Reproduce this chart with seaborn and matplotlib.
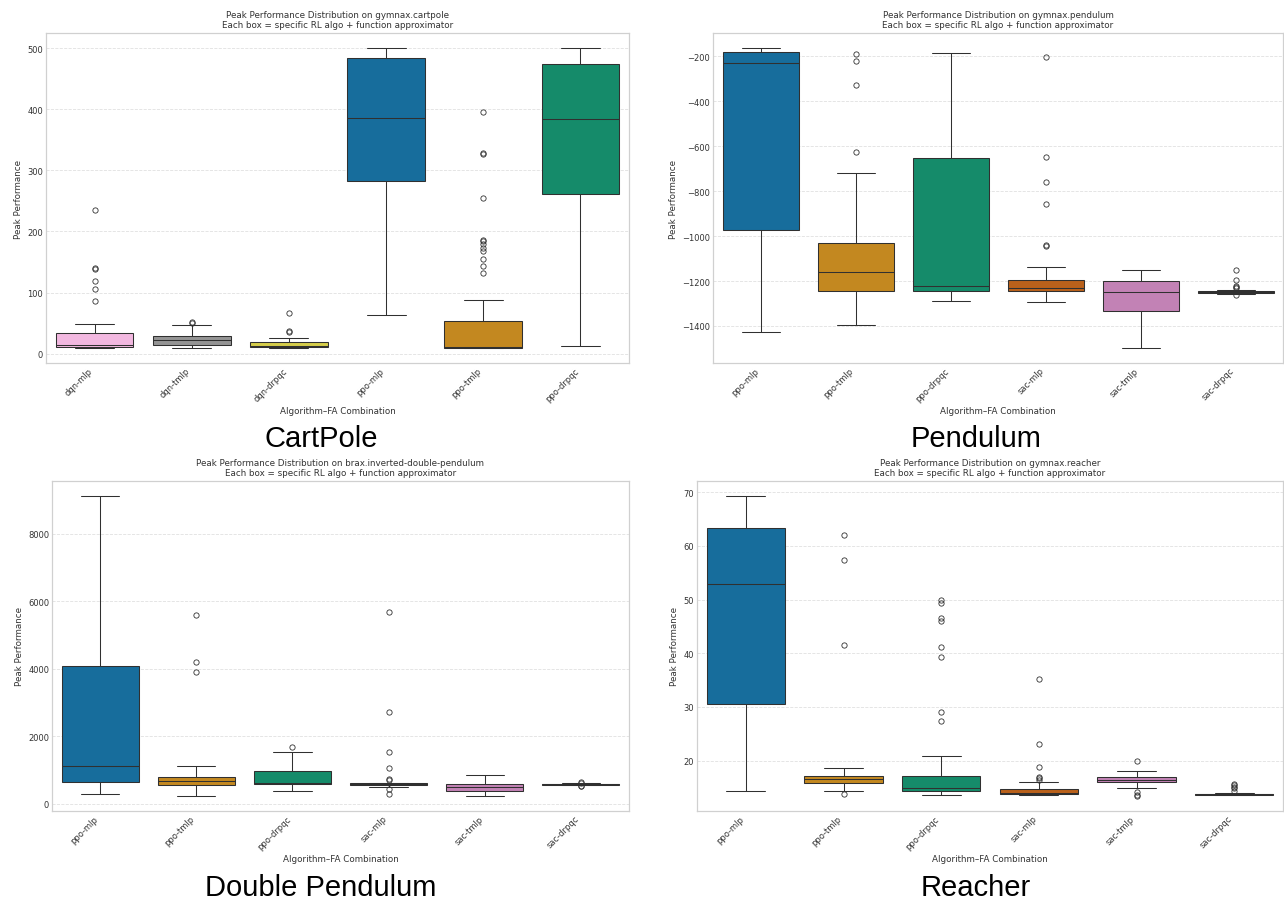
import matplotlib
matplotlib.use("Agg")
import matplotlib.pyplot as plt
import pandas as pd
import seaborn as sns

# ---------------- peak performance per algorithm / function approximator ----------------
# gymnax.cartpole
cartpole_dqn_mlp = [9.8, 9.9, 10.0, 10.2, 10.4, 10.6, 10.8, 10.9, 11.2, 11.6, 12.1, 12.7, 13.3, 13.8,
                    14.2, 16.5, 19.0, 22.4, 25.8, 29.1, 32.0, 34.4, 49.0, 87.0, 106.0, 119.0, 138.0,
                    141.0, 235.5]
cartpole_dqn_tmlp = [9.8, 11.5, 13.0, 14.2, 17.0, 20.5, 22.9, 25.0, 27.0, 28.4, 46.9, 51.0, 52.0]
cartpole_dqn_drpqc = [9.8, 10.1, 10.5, 10.8, 11.0, 11.2, 11.5, 11.8, 12.0, 13.5, 15.5, 17.5, 19.0,
                      26.0, 35.5, 37.0, 66.0]
cartpole_ppo_mlp = [64, 120, 190, 250, 282.5, 310, 340, 365, 386, 420, 450, 470, 484, 490, 495, 498, 500]
cartpole_ppo_tmlp = [9.4, 9.5, 9.5, 9.6, 9.6, 9.7, 9.7, 9.7, 9.8, 9.8, 9.8, 9.8, 9.8, 9.8,
                     9.9, 9.9, 10.0, 10.0, 10.1, 10.1, 10.2, 10.2, 10.3, 10.3, 10.3, 10.4, 10.4,
                     11.5, 13.0, 15.0, 17.5, 20.0, 23.0, 26.0, 30.0, 35.0, 40.0, 45.0, 50.0, 53.4,
                     87.7, 131.8, 143.3, 154.7, 168.8, 173.0, 179.7, 184.0, 186.8, 254.4, 327.0,
                     328.0, 395.4]
cartpole_ppo_drpqc = [12.5, 90, 160, 220, 260.6, 300, 330, 360, 383.8, 410, 435, 455, 474.4, 485, 492,
                      497, 500]

# gymnax.pendulum
pendulum_ppo_mlp = [-1425.5, -1300, -1180, -1060, -973, -750, -520, -330, -231, -215, -202, -190,
                    -180.7, -176, -171, -167, -163]
pendulum_ppo_tmlp = [-1396, -1340, -1300, -1275, -1258, -1244.5, -1228, -1210, -1192, -1175, -1158.5,
                     -1140, -1110, -1080, -1050, -1029, -718, -625.8, -326, -220.8, -189.6]
pendulum_ppo_drpqc = [-1290.5, -1275, -1262, -1252, -1244.5, -1238, -1232, -1226, -1220.8, -1150, -1000,
                      -820, -654, -520, -400, -280, -183.7]
pendulum_sac_mlp = [-1293.5, -1280, -1270, -1262, -1256, -1251, -1247, -1244.5, -1242, -1240, -1238,
                    -1236, -1235, -1234, -1232.6, -1228, -1222, -1216, -1210, -1204, -1199, -1195.5,
                    -1137.7, -1044, -1038.3, -857.3, -759.3, -649.6, -204.5]
pendulum_sac_tmlp = [-1498, -1440, -1390, -1355, -1333.5, -1310, -1285, -1265, -1249, -1238, -1226,
                     -1212, -1198.5, -1185, -1172, -1160, -1149.6]
pendulum_sac_drpqc = [-1263, -1258, -1256, -1255, -1254, -1253, -1252, -1251.5, -1251, -1250.5, -1250,
                      -1249.5, -1249, -1248.5, -1248, -1247.5, -1247, -1246.5, -1246, -1241, -1233,
                      -1228, -1222, -1194, -1152.5]

# brax.inverted-double-pendulum
idp_ppo_mlp = [287, 400, 500, 580, 632, 750, 880, 1000, 1106, 1600, 2300, 3200, 4079, 5200, 6500, 7800,
               9116]
idp_ppo_tmlp = [237, 380, 470, 520, 553, 590, 625, 655, 676, 705, 740, 775, 800, 1126, 3901, 4198, 5600]
idp_ppo_drpqc = [385, 450, 520, 560, 584, 592, 600, 607, 613, 700, 800, 900, 969, 1150, 1350, 1540, 1689]
idp_sac_mlp = [300, 430, 500, 530, 538, 543, 547, 550, 553, 557, 561, 565, 569, 572, 575, 579, 583, 587,
               591, 595, 598, 600, 620, 690, 740, 1045, 1540, 2710, 5690]
idp_sac_tmlp = [227, 290, 330, 365, 385, 410, 435, 460, 484, 505, 530, 555, 583, 650, 720, 790, 859]
idp_sac_drpqc = [510, 525, 545, 565, 568, 572, 575, 578, 582, 585, 600, 620, 640]

# gymnax.reacher
reacher_ppo_mlp = [14.4, 19, 23, 27, 30.5, 36, 42, 48, 52.9, 55.5, 58, 60.5, 63.25, 65, 66.5, 68, 69.3]
reacher_ppo_tmlp = [13.7, 14.35, 15.0, 15.5, 15.8, 16.0, 16.2, 16.35, 16.5, 16.65, 16.8, 16.95, 17.1,
                    18.7, 41.5, 57.4, 62.1]
reacher_ppo_drpqc = [13.6, 13.7, 13.8, 13.9, 14.0, 14.1, 14.2, 14.3, 14.36, 14.42, 14.48, 14.55, 14.62,
                     14.7, 14.77, 14.84, 14.9, 14.95, 14.98, 15.2, 15.5, 15.8, 16.1, 16.4, 16.6, 16.8,
                     16.95, 17.08, 20.86, 27.37, 29.1, 39.27, 41.19, 46.08, 46.58, 49.43, 49.86]
reacher_sac_mlp = [13.5, 13.52, 13.55, 13.58, 13.61, 13.64, 13.66, 13.68, 13.72, 13.76, 13.8, 13.85,
                   13.9, 13.94, 13.98, 14.08, 14.2, 14.32, 14.44, 14.55, 14.65, 14.72, 16.1, 16.45,
                   16.7, 16.96, 18.75, 23.16, 35.18]
reacher_sac_tmlp = [13.4, 13.6, 14.1, 14.98, 15.97, 16.1, 16.25, 16.36, 16.47, 16.6, 16.72, 16.85, 16.96,
                    17.3, 17.7, 18.14, 20.0]
reacher_sac_drpqc = [13.55, 13.56, 13.57, 13.58, 13.6, 13.61, 13.62, 13.63, 13.64, 13.66, 13.67, 13.69,
                     13.7, 13.72, 13.75, 13.78, 13.81, 13.84, 13.86, 14.0, 14.4, 14.8, 15.1, 15.4, 15.6]

# category labels
dqn_combos = ["dqn-mlp", "dqn-tmlp", "dqn-drpqc"]
ppo_combos = ["ppo-mlp", "ppo-tmlp", "ppo-drpqc"]
sac_combos = ["sac-mlp", "sac-tmlp", "sac-drpqc"]

combo_colors = {
    "ppo-mlp": "#0173b2", "ppo-tmlp": "#de8f05", "ppo-drpqc": "#029e73",
    "sac-mlp": "#d55e00", "sac-tmlp": "#cc78bc", "sac-drpqc": "#ca9161",
    "dqn-mlp": "#fbafe4", "dqn-tmlp": "#949494", "dqn-drpqc": "#ece133",
}

panels = [
    ("gymnax.cartpole", "CartPole", dqn_combos + ppo_combos,
     [cartpole_dqn_mlp, cartpole_dqn_tmlp, cartpole_dqn_drpqc,
      cartpole_ppo_mlp, cartpole_ppo_tmlp, cartpole_ppo_drpqc],
     (46, 34, 629, 364), (321, 439)),
    ("gymnax.pendulum", "Pendulum", ppo_combos + sac_combos,
     [pendulum_ppo_mlp, pendulum_ppo_tmlp, pendulum_ppo_drpqc,
      pendulum_sac_mlp, pendulum_sac_tmlp, pendulum_sac_drpqc],
     (713, 34, 1283, 364), (976, 439)),
    ("brax.inverted-double-pendulum", "Double Pendulum", ppo_combos + sac_combos,
     [idp_ppo_mlp, idp_ppo_tmlp, idp_ppo_drpqc, idp_sac_mlp, idp_sac_tmlp, idp_sac_drpqc],
     (52, 482, 629, 812), (321, 888)),
    ("gymnax.reacher", "Reacher", ppo_combos + sac_combos,
     [reacher_ppo_mlp, reacher_ppo_tmlp, reacher_ppo_drpqc,
      reacher_sac_mlp, reacher_sac_tmlp, reacher_sac_drpqc],
     (697, 482, 1283, 812), (976, 888)),
]

sns.set_theme(style="whitegrid")
plt.rcParams["font.family"] = ["DejaVu Sans"]

W, H = 1284, 903
fig = plt.figure(figsize=(W / 100, H / 100), dpi=100)

for env, name, order, values, (x0, y0, x1, y1), (tx, ty) in panels:
    ax = fig.add_axes([x0 / W, 1 - y1 / H, (x1 - x0) / W, (y1 - y0) / H])
    df = pd.DataFrame({
        "combo": [c for c, v in zip(order, values) for _ in v],
        "perf": [p for v in values for p in v],
    })
    sns.boxplot(data=df, x="combo", y="perf", hue="combo", order=order, hue_order=order,
                palette=combo_colors, legend=False, ax=ax, fliersize=3.8, linewidth=0.75,
                flierprops={"markeredgewidth": 0.6})
    ax.set_title(f"Peak Performance Distribution on {env}\n"
                 "Each box = specific RL algo + function approximator", fontsize=6.3, pad=4,
                 color="#333333")
    ax.set_xlabel("Algorithm\u2013FA Combination", fontsize=6.3, labelpad=2, color="#333333")
    ax.set_ylabel("Peak Performance", fontsize=6.3, labelpad=3, color="#333333")
    ax.tick_params(axis="both", labelsize=6, pad=2, length=0, labelcolor="#333333")
    plt.setp(ax.get_xticklabels(), rotation=45, ha="right", rotation_mode="default")
    ax.grid(axis="x", visible=False)
    ax.grid(axis="y", linestyle="--", linewidth=0.6, color="#e0e0e0")
    for sp in ax.spines.values():
        sp.set_color("#d0d0d0")
        sp.set_linewidth(0.9)
    fig.text(tx / W, 1 - ty / H, name, ha="center", va="center", fontsize=21,
             family="Liberation Sans", color="black")

fig.savefig("out.png", dpi=100)
